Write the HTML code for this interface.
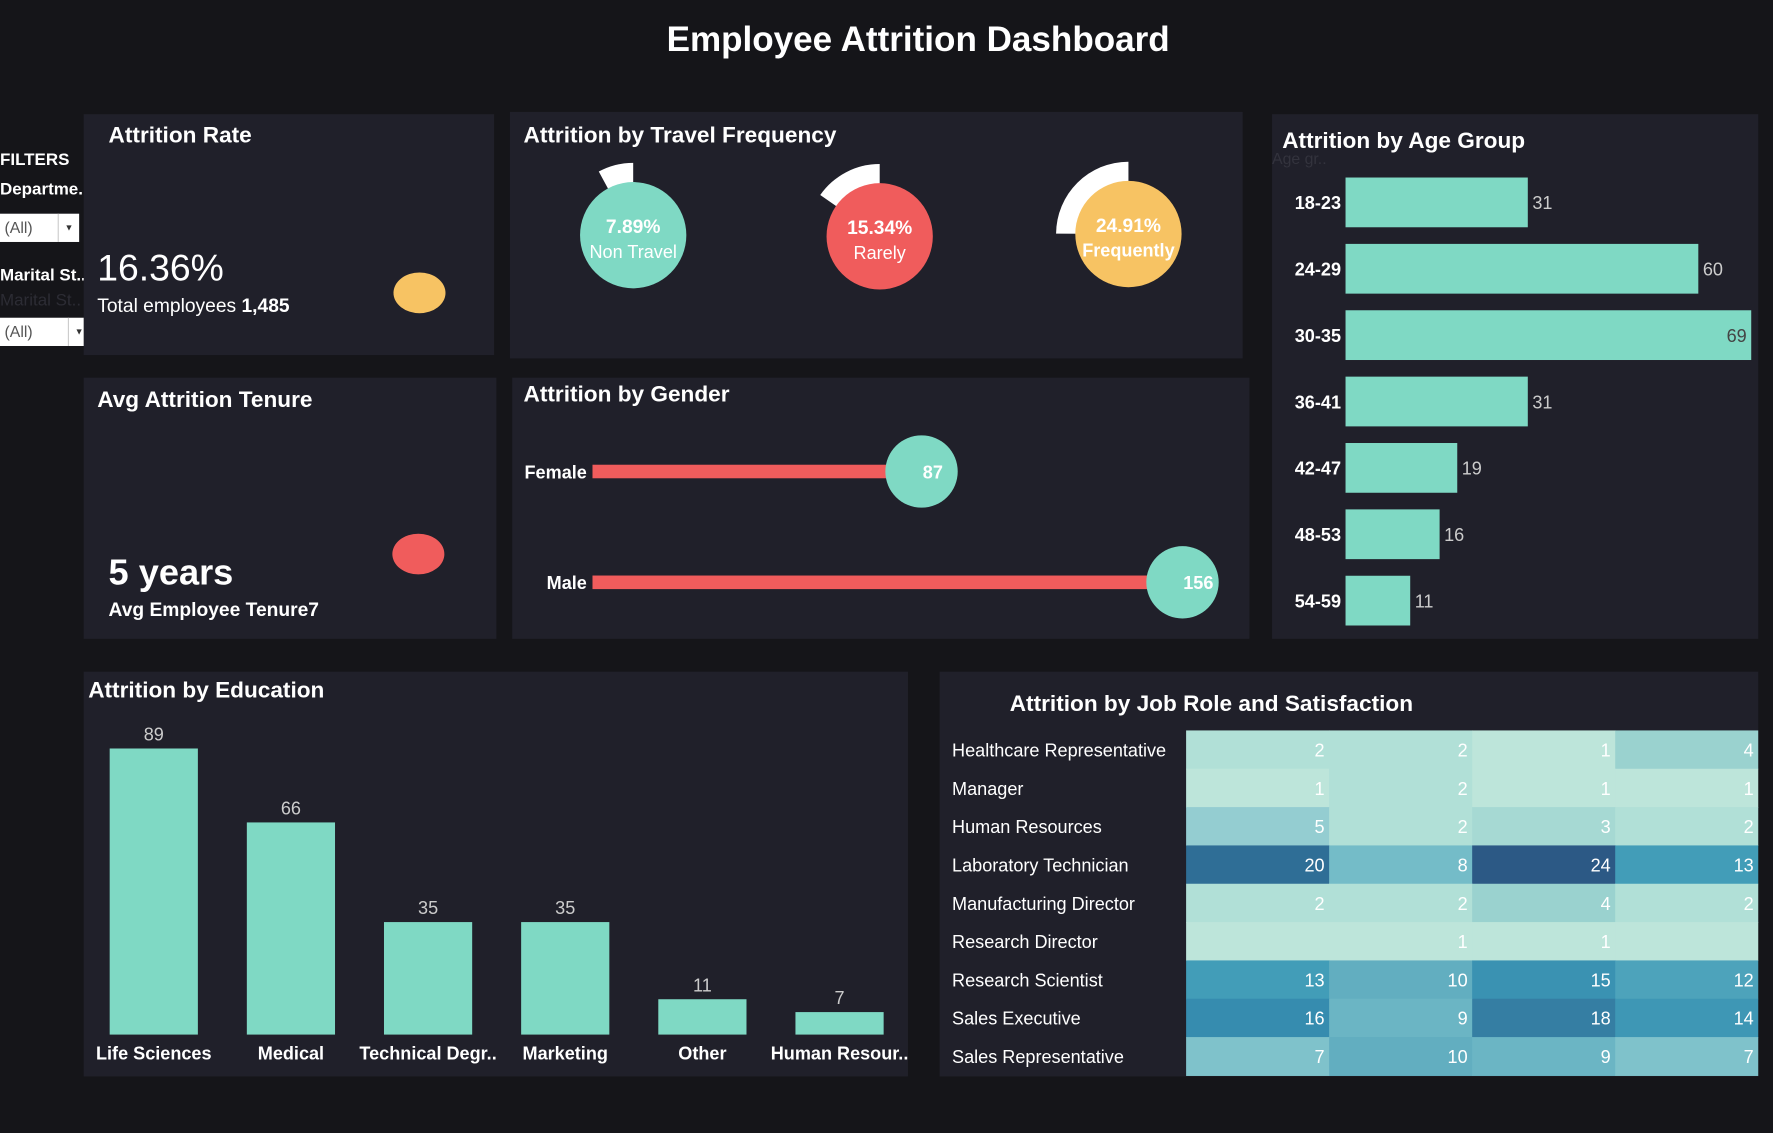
<!DOCTYPE html>
<html><head><meta charset="utf-8">
<style>
html,body{margin:0;padding:0;background:#151519;width:1773px;height:1133px;overflow:hidden}
#root{position:absolute;left:0;top:0;width:1568px;height:1002px;transform:scale(1.1307);transform-origin:0 0;font-family:"Liberation Sans",sans-serif;color:#fff}
.panel{position:absolute;background:#20202a}
.t{position:absolute;white-space:nowrap}
.h{font-weight:bold;font-size:20px}
.dd{position:absolute;background:#fff;color:#555;font-size:14px;height:25px;line-height:25px;padding-left:4px;box-sizing:border-box}
.dd span{position:absolute;right:0;top:0;width:18px;border-left:1px solid #ccc;text-align:center;font-size:8px;color:#333}
</style></head><body>
<div id="root">
<div class="t" style="left:0;width:1624px;text-align:center;top:17px;font-size:31px;font-weight:bold">Employee Attrition Dashboard</div>

<div class="t" style="left:0;top:133px;font-size:15px;font-weight:bold">FILTERS</div>
<div class="t" style="left:0;top:159px;font-size:15px;font-weight:bold">Departme..</div>
<div class="dd" style="left:0;top:189px;width:70px">(All)<span>▼</span></div>
<div class="t" style="left:0;top:235px;font-size:15px;font-weight:bold">Marital St..</div>
<div class="t" style="left:0;top:257px;font-size:15px;color:#2c2c34">Marital St..</div>
<div class="dd" style="left:0;top:281px;width:79px">(All)<span>▼</span></div>

<div class="panel" style="left:74px;top:101px;width:363px;height:213px">
 <div class="t h" style="left:22px;top:8px">Attrition Rate</div>
 <div class="t" style="left:12px;top:117px;font-size:33px">16.36%</div>
 <div class="t" style="left:12px;top:160px;font-size:17px">Total employees <b>1,485</b></div>
 <div style="position:absolute;left:274px;top:140px;width:46px;height:36px;border-radius:50%;background:#f7c363"></div>
</div>

<div class="panel" style="left:74px;top:334px;width:365px;height:231px">
 <div class="t h" style="left:12px;top:9px">Avg Attrition Tenure</div>
 <div class="t" style="left:22px;top:154px;font-size:32px;font-weight:bold">5 years</div>
 <div class="t" style="left:22px;top:196px;font-size:17px;font-weight:bold">Avg Employee Tenure7</div>
 <div style="position:absolute;left:273px;top:138px;width:46px;height:36px;border-radius:50%;background:#f05c5c"></div>
</div>

<div class="panel" style="left:451px;top:99px;width:648px;height:218px">
 <div class="t h" style="left:12px;top:10px">Attrition by Travel Frequency</div>
</div>
<svg id="travel" style="position:absolute;left:451px;top:99px" width="648" height="218"></svg>

<div class="panel" style="left:453px;top:334px;width:652px;height:231px">
 <div class="t h" style="left:10px;top:4px">Attrition by Gender</div>
</div>
<svg id="gender" style="position:absolute;left:453px;top:334px" width="652" height="231"></svg>

<div class="panel" style="left:1125px;top:101px;width:430px;height:464px">
 <div class="t h" style="left:9px;top:13px">Attrition by Age Group</div>
 <div class="t" style="left:0;top:31px;font-size:14px;color:#33333d">Age gr..</div>
</div>
<svg id="age" style="position:absolute;left:1125px;top:101px" width="430" height="464"></svg>

<div class="panel" style="left:74px;top:594px;width:729px;height:358px">
 <div class="t h" style="left:4px;top:6px">Attrition by Education</div>
</div>
<svg id="edu" style="position:absolute;left:74px;top:594px" width="729" height="358"></svg>

<div class="panel" style="left:831px;top:594px;width:724px;height:358px">
 <div class="t h" style="left:62px;top:18px">Attrition by Job Role and Satisfaction</div>
</div>
<svg id="heat" style="position:absolute;left:831px;top:594px" width="724" height="358"></svg>
</div>
<script>
const NS="http://www.w3.org/2000/svg";
function mk(p,tag,a,txt){const e=document.createElementNS(NS,tag);for(const k in a)e.setAttribute(k,a[k]);if(txt!==undefined)e.textContent=txt;p.appendChild(e);return e;}
const FONT='"Liberation Sans",sans-serif';

// Travel
const travelCats=["Non Travel","Rarely","Frequently"];
const travelPct=[7.89,15.34,24.91];
const travelColors=["#7fd9c4","#f05c5c","#f7c363"];
const tcx=[109,327,547], tcy=[109,110,108];
const tv=document.getElementById('travel');
travelPct.forEach((p,i)=>{
 const cx=tcx[i],cy=tcy[i],R=64,a=p/100*2*Math.PI;
 const x2=cx-R*Math.sin(a),y2=cy-R*Math.cos(a);
 const w=mk(tv,'path',{d:`M${cx},${cy} L${cx},${cy-R} A${R},${R} 0 ${a>Math.PI?1:0} 0 ${x2},${y2} Z`,fill:'#fff'});
 
 
 const c=mk(tv,'circle',{cx,cy,r:47,fill:travelColors[i]});
 
 
 const t1=mk(tv,'text',{x:cx,y:cy-2,'text-anchor':'middle','font-size':17,'font-weight':'bold',fill:'#fff','font-family':FONT},p.toFixed(2)+'%');
 
 
 const t2=mk(tv,'text',{x:cx,y:cy+20,'text-anchor':'middle','font-size':16,'font-weight':i==2?'bold':'normal',fill:'#fff','font-family':FONT},travelCats[i]);
 
 
});

// Gender
const genderCats=["Female","Male"];
const genderVals=[87,156];
const gv=document.getElementById('gender');
const gx=v=>71+v*3.345, gy=[83,181];
genderVals.forEach((v,i)=>{
 const l=mk(gv,'text',{x:66,y:gy[i]+6,'text-anchor':'end','font-size':16,'font-weight':'bold',fill:'#fff','font-family':FONT},genderCats[i]);
 
 
 const b=mk(gv,'rect',{x:71,y:gy[i]-6,width:gx(v)-71,height:12,fill:'#f05c5c'});
 
 
 const c=mk(gv,'circle',{cx:gx(v),cy:gy[i],r:32,fill:'#7fd9c4'});
 
 
 const t=mk(gv,'text',{x:gx(v)+(i==1?14:10),y:gy[i]+6,'text-anchor':'middle','font-size':16,'font-weight':'bold',fill:'#fff','font-family':FONT},v);
 
 
});

// Age
const ageCats=["18-23","24-29","30-35","36-41","42-47","48-53","54-59"];
const ageVals=[31,60,69,31,19,16,11];
const av=document.getElementById('age');
const ax=v=>65+v*5.2, ay=i=>78+i*58.7;
ageVals.forEach((v,i)=>{
 const l=mk(av,'text',{x:61,y:ay(i)+6,'text-anchor':'end','font-size':16,'font-weight':'bold',fill:'#fff','font-family':FONT},ageCats[i]);
 
 
 const b=mk(av,'rect',{x:65,y:ay(i)-22,width:ax(v)-65,height:44,fill:'#7fd9c4'});
 
 
 const inside=ax(v)>400;
 const t=mk(av,'text',{x:inside?ax(v)-4:ax(v)+4,y:ay(i)+6,'text-anchor':inside?'end':'start','font-size':16,fill:inside?'#444':'#ccc','font-family':FONT},v);
 
 
});

// Education
const eduCats=["Life Sciences","Medical","Technical Degr..","Marketing","Other","Human Resour.."];
const eduVals=[89,66,35,35,11,7];
const ev=document.getElementById('edu');
const ebase=321, ey=v=>ebase-v*2.843, ex=i=>62+i*121.3;
eduVals.forEach((v,i)=>{
 const b=mk(ev,'rect',{x:ex(i)-39,y:ey(v),width:78,height:ebase-ey(v),fill:'#7fd9c4'});
 
 
 const t=mk(ev,'text',{x:ex(i),y:ey(v)-7,'text-anchor':'middle','font-size':16,fill:'#ccc','font-family':FONT},v);
 
 
 const l=mk(ev,'text',{x:ex(i),y:343,'text-anchor':'middle','font-size':16,'font-weight':'bold',fill:'#fff','font-family':FONT},eduCats[i]);
 
 
});

// Heatmap
const roles=["Healthcare Representative","Manager","Human Resources","Laboratory Technician","Manufacturing Director","Research Director","Research Scientist","Sales Executive","Sales Representative"];
const satisfaction=[1,2,3,4];
const heatVals=[[2,2,1,4],[1,2,1,1],[5,2,3,2],[20,8,24,13],[2,2,4,2],[null,1,1,null],[13,10,15,12],[16,9,18,14],[7,10,9,7]];
const stops=[[1,[189,229,218]],[2,[177,224,215]],[4,[154,210,207]],[5,[148,205,209]],[8,[116,188,200]],[10,[98,174,192]],[13,[66,157,184]],[16,[54,140,175]],[18,[53,126,163]],[20,[47,110,150]],[24,[44,89,133]]];
function col(v){if(v==null)v=1;for(let k=1;k<stops.length;k++){if(v<=stops[k][0]){const [a,ca]=stops[k-1],[b,cb]=stops[k];const t=(v-a)/(b-a);return 'rgb('+ca.map((c,j)=>Math.round(c+(cb[j]-c)*t)).join(',')+')';}}return 'rgb(44,89,133)';}
const hv=document.getElementById('heat');
const hx0=218,cw=126.5,hy0=52,rh=33.9;
roles.forEach((r,i)=>{
 const l=mk(hv,'text',{x:11,y:hy0+i*rh+23,'font-size':16,fill:'#fff','font-family':FONT},r);
 
 
 satisfaction.forEach((s,j)=>{
  const v=heatVals[i][j];
  const c=mk(hv,'rect',{x:hx0+j*cw,y:hy0+i*rh,width:cw+0.5,height:rh+0.5,fill:col(v)});
  
  
  if(v!=null){
   const t=mk(hv,'text',{x:hx0+(j+1)*cw-4,y:hy0+i*rh+23,'text-anchor':'end','font-size':16,fill:'#fff','font-family':FONT},v);
   
   
  }
 });
});
</script>
</body></html>
